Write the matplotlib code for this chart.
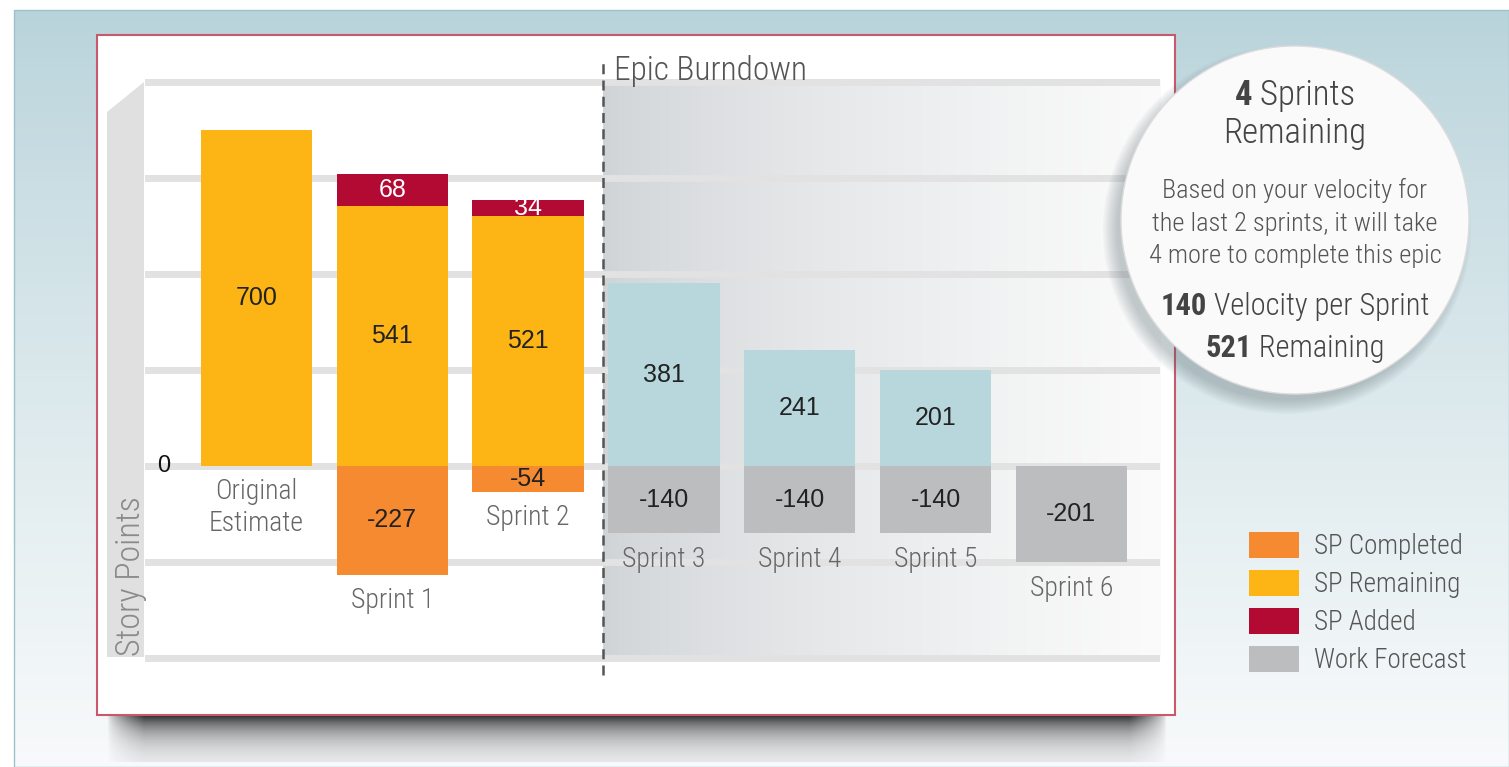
import numpy as np
import matplotlib
matplotlib.use("Agg")
import matplotlib.pyplot as plt
from matplotlib import font_manager
from matplotlib.patches import Rectangle, Polygon, Circle
from matplotlib.colors import to_rgb

W, H = 1509, 767

# Data
categories = ["Original\nEstimate", "Sprint 1", "Sprint 2", "Sprint 3", "Sprint 4", "Sprint 5", "Sprint 6"]
sp_remaining = [700, 541, 521]            # Original, Sprint 1, Sprint 2
sp_added = [68, 34]                       # Sprint 1, Sprint 2
sp_completed = [-227, -54]                # Sprint 1, Sprint 2
forecast_remaining = [381, 241, 201]      # Sprint 3-5
work_forecast = [-140, -140, -140, -201]  # Sprint 3-6
legend_labels = ["SP Completed", "SP Remaining", "SP Added", "Work Forecast"]

ORANGE = "#f58a31"
YELLOW = "#fdb515"
RED = "#b30a33"
GRAY = "#bcbdbf"
BLUE = "#b8d7dd"

# Fonts
available = {f.name for f in font_manager.fontManager.ttflist}
NARROW = next((n for n in ["Liberation Sans Narrow", "Roboto Condensed", "Open Sans Condensed"]
               if n in available), "DejaVu Sans")
SANS = "Liberation Sans" if "Liberation Sans" in available else "DejaVu Sans"
LIGHT = "light"

fig = plt.figure(figsize=(W / 100, H / 100), dpi=100)
fig.patch.set_facecolor("white")

# --- background layer (pixel coordinates) ---
bg = fig.add_axes([0, 0, 1, 1], zorder=0)
bg.axis("off")
g = np.linspace(0, 1, 256) ** 0.85
top, bot = np.array(to_rgb("#b8d3da")), np.array(to_rgb("#f8fafb"))
grad = (top + (bot - top) * g[:, None])[:, None, :]
bg.imshow(grad, extent=(14, W, H, 10), aspect="auto", interpolation="bicubic")
bg.add_patch(Rectangle((14, 10), W - 14, H - 10, fill=False, ec="#9cc3ca", lw=1))

# shadow under the white panel
xs = np.linspace(0, 1, 400)
ys = np.linspace(0, 1, 60)
taper = np.clip(np.minimum(xs, 1 - xs) / 0.035, 0, 1) ** 0.7
alpha = np.exp(-ys * 2.6)[:, None] * taper[None, :]
shadow = np.zeros((60, 400, 4))
shadow[..., :3] = 0.08
shadow[..., 3] = np.clip(alpha * 1.05, 0, 1)
bg.imshow(shadow, extent=(106, 1168, 762, 712), aspect="auto", interpolation="bilinear")

bg.add_patch(Rectangle((97, 35), 1078, 680, fc="white", ec="#c8586c", lw=1.5))
# 3D wall on the y axis
bg.add_patch(Polygon([(107, 112), (144, 82), (144, 657), (107, 657)], closed=True,
                     fc="#e0e0e0", ec="none"))
bg.set_xlim(0, W)
bg.set_ylim(H, 0)

# --- main chart ---
y_top, y_bot = 76.2, 662.8
ax = fig.add_axes([145 / W, 1 - y_bot / H, 1015 / W, (y_bot - y_top) / H], zorder=1)
ax.set_facecolor("none")
for s in ax.spines.values():
    s.set_visible(False)

x_actual = [0, 1, 2]
x_forecast = [3, 4, 5, 6]
bw = 0.82

# epic burndown shaded area
sep = 2.55
shade = np.linspace(0, 1, 256) ** 0.7
c0, c1 = np.array(to_rgb("#cfd3d6")), np.array(to_rgb("#fbfbfb"))
simg = (c0 + (c1 - c0) * shade[:, None])[None, :, :]
ax.imshow(simg, extent=(sep, 6.653, -400, 800), aspect="auto", interpolation="bicubic", zorder=0)

bars_rem = ax.bar(x_actual, sp_remaining, bw, color=YELLOW, label=legend_labels[1])
bars_add = ax.bar(x_actual[1:], sp_added, bw, bottom=sp_remaining[1:], color=RED, label=legend_labels[2])
bars_comp = ax.bar(x_actual[1:], sp_completed, bw, color=ORANGE, label=legend_labels[0])
bars_frem = ax.bar(x_forecast[:3], forecast_remaining, bw, color=BLUE)
bars_fc = ax.bar(x_forecast, work_forecast, bw, color=GRAY, label=legend_labels[3])

for bars in (bars_rem, bars_comp, bars_frem, bars_fc):
    ax.bar_label(bars, label_type="center", fontsize=18, family=SANS, color="#222")
ax.bar_label(bars_add, label_type="center", fontsize=18, family=SANS, color="white")

# category labels below each bar
lows = [0] + sp_completed + work_forecast
for x, cat, low in zip(range(len(categories)), categories, lows):
    ax.annotate(cat, (x, min(0, low)), xytext=(0, -9), textcoords="offset points",
                ha="center", va="top", fontsize=20, family=NARROW, weight=LIGHT,
                color="#666", linespacing=1.2)

ax.text(-0.733, 0, "0", ha="left", va="center", fontsize=17, family=SANS, color="#111")

ax.set_xlim(-0.821, 6.653)
ax.set_ylim(-410, 812)
ax.set_yticks(range(-400, 801, 200))
ax.set_xticks([])
ax.tick_params(axis="y", length=0, labelleft=False)
ax.grid(axis="y", color="#e2e2e2", lw=5)
ax.set_axisbelow(True)

ax.set_ylabel("Story Points", loc="bottom", fontsize=24.5, family=NARROW, weight=LIGHT,
              color="#8a8a8a")
ax.yaxis.set_label_coords(0.002, 0.012)

ax.axvline(sep, ymin=-0.021, ymax=1.028, color="#555", lw=1.8, ls=(0, (4, 2.5)), clip_on=False)
ax.text(sep + 0.08, 0.9935, "Epic Burndown", transform=ax.get_xaxis_transform(),
        ha="left", va="baseline", fontsize=24, family=NARROW, weight=LIGHT, color="#555")

# --- summary circle ---
ov = fig.add_axes([0, 0, 1, 1], zorder=3)
ov.axis("off")
ov.set_xlim(0, W)
ov.set_ylim(H, 0)
cx, cy, cr = 1295, 220, 174
for i in range(10):
    ov.add_patch(Circle((cx - 8, cy + 10), cr + 10 - i * 1.5, fc="#5d6f76", ec="none", alpha=0.04))
ov.add_patch(Circle((cx, cy), cr, fc="#fafafa", ec="#dcdcdc", lw=1))
n = 300
gx, gy = np.meshgrid(np.linspace(-1, 1, n), np.linspace(-1, 1, n))
t = np.clip((-gx + gy) / 2.4 + 0.5, 0, 1) ** 1.3
l0, l1 = np.array(to_rgb("#f3f3f3")), np.array(to_rgb("#d0d1d1"))
cimg = l0 + (l1 - l0) * t[..., None]
im = ov.imshow(cimg, extent=(cx - cr, cx + cr, cy + cr, cy - cr), aspect="auto", interpolation="bicubic")
clip = Circle((cx, cy), cr - 6, transform=ov.transData)
im.set_clip_path(clip)
ov.set_xlim(0, W)
ov.set_ylim(H, 0)

renderer = fig.canvas.get_renderer()


def mixed_line(y, parts, size, color):
    texts = [ov.text(0, y, s, fontsize=size, fontweight=w, family=NARROW, color=color,
                     ha="left", va="baseline") for s, w in parts]
    widths = [tx.get_window_extent(renderer).width for tx in texts]
    cur = cx - sum(widths) / 2
    for tx, wd in zip(texts, widths):
        tx.set_x(cur)
        cur += wd


mixed_line(105, [("4", "bold"), (" Sprints", LIGHT)], 25, "#444")
mixed_line(143, [("Remaining", LIGHT)], 25, "#444")
for yy, line in zip([198, 231, 263], ["Based on your velocity for",
                                      "the last 2 sprints, it will take",
                                      "4 more to complete this epic"]):
    mixed_line(yy, [(line, LIGHT)], 19, "#555")
mixed_line(315, [("140", "bold"), (" Velocity per Sprint", LIGHT)], 22, "#444")
mixed_line(357, [("521", "bold"), (" Remaining", LIGHT)], 22, "#444")

# --- legend ---
fig.legend([bars_comp, bars_rem, bars_add, bars_fc], legend_labels, loc="upper left",
           bbox_to_anchor=(1249 / W, 1 - 532 / H), frameon=False,
           prop={"family": NARROW, "size": 19.5, "weight": LIGHT}, labelcolor="#555",
           handlelength=1.85, handleheight=1.1, handletextpad=0.55,
           labelspacing=0.36, borderpad=0, borderaxespad=0)

fig.savefig("out.png", dpi=100)
